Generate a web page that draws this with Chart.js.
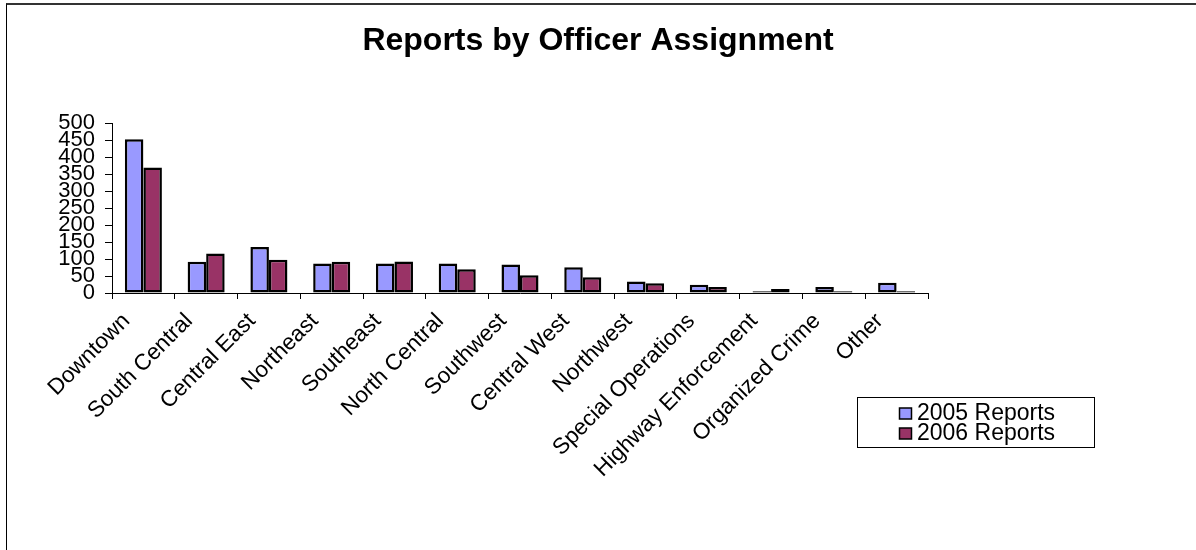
<!DOCTYPE html>
<html>
<head>
<meta charset="utf-8">
<title>Reports by Officer Assignment</title>
<script src="https://cdn.jsdelivr.net/npm/chart.js@4.4.1/dist/chart.umd.min.js"></script>
<style>
    html, body { margin: 0; padding: 0; background: #fff; }
    #wrap { position: relative; width: 1196px; height: 550px; overflow: hidden; }
    #frame {
        position: absolute; left: 6px; top: 3px; width: 1300px; height: 600px;
        border-top: 2px solid #333; border-left: 1px solid #000; pointer-events: none;
    }
</style>
</head>
<body>
<div id="wrap">
    <canvas id="officerChart" width="1196" height="550"></canvas>
    <div id="frame"></div>
</div>
<script>
const categories = ['Downtown', 'South Central', 'Central East', 'Northeast', 'Southeast', 'North Central',
    'Southwest', 'Central West', 'Northwest', 'Special Operations', 'Highway Enforcement', 'Organized Crime', 'Other'];
const reports2005 = [452, 92, 135, 87, 87, 87, 84, 76, 34, 24, 5, 18, 30];
const reports2006 = [369, 116, 98, 92, 93, 70, 52, 46, 29, 18, 12, 5, 5];
const yTicks = [0, 50, 100, 150, 200, 250, 300, 350, 400, 450, 500];

Chart.defaults.font.family = "'Liberation Sans', Arial, sans-serif";
Chart.defaults.color = '#000';

// legend box drawn below the plot, like the original
const boxLegend = {
    id: 'boxLegend',
    afterDraw(chart) {
        const ctx = chart.ctx;
        const x = 857, y = 397, w = 237, h = 50;
        ctx.save();
        ctx.fillStyle = '#fff';
        ctx.fillRect(x, y, w, h);
        ctx.strokeStyle = '#000';
        ctx.lineWidth = 1;
        ctx.strokeRect(x + 0.5, y + 0.5, w, h);
        ctx.font = "23px 'Liberation Sans', Arial, sans-serif";
        ctx.textBaseline = 'middle';
        chart.data.datasets.forEach((ds, i) => {
            const cy = y + 16 + i * 20;
            ctx.fillStyle = ds.backgroundColor;
            ctx.lineWidth = 1.5;
            ctx.fillRect(x + 42.5, cy - 5, 12, 11);
            ctx.strokeRect(x + 42.5, cy - 5, 12, 11);
            ctx.fillStyle = '#000';
            ctx.fillText(ds.label, x + 60, cy + 1);
        });
        ctx.restore();
    }
};

const ctx = document.getElementById('officerChart').getContext('2d');
const officerChart = new Chart(ctx, {
    type: 'bar',
    data: {
        labels: categories,
        datasets: [{
            label: '2005 Reports',
            data: reports2005,
            backgroundColor: '#9999FF',
            borderColor: '#000',
            borderWidth: 2.5,
            borderSkipped: false
        }, {
            label: '2006 Reports',
            data: reports2006,
            backgroundColor: '#993366',
            borderColor: '#000',
            borderWidth: 2.5,
            borderSkipped: false
        }]
    },
    options: {
        responsive: false,
        animation: false,
        layout: { padding: 0 },
        datasets: { bar: { categoryPercentage: 0.59, barPercentage: 1 } },
        plugins: {
            legend: { display: false },
            tooltip: { enabled: false },
            title: {
                display: true,
                text: 'Reports by Officer Assignment',
                font: { size: 32, weight: 'bold' },
                color: '#000',
                padding: { top: 22, bottom: 62.6 }
            }
        },
        scales: {
            x: {
                offset: true,
                grid: { offset: true, drawOnChartArea: false, drawTicks: true, tickLength: 6, color: '#000' },
                border: { color: '#000', width: 1 },
                ticks: {
                    font: { size: 22.5 },
                    color: '#000',
                    autoSkip: false,
                    maxRotation: 45,
                    minRotation: 45,
                    padding: 9,
                    labelOffset: -17
                },
                afterFit(scale) { scale.height = 257; }
            },
            y: {
                min: 0,
                max: 500,
                grid: { drawOnChartArea: false, drawTicks: true, tickLength: 7, color: '#000' },
                border: { color: '#000', width: 1 },
                ticks: { font: { size: 22 }, color: '#000', autoSkip: false, padding: 10 },
                afterBuildTicks(axis) { axis.ticks = yTicks.map(v => ({ value: v })); },
                afterFit(scale) { scale.width = 112; }
            },
            // empty space on the right where the legend sits
            spacer: {
                type: 'linear',
                position: 'right',
                ticks: { display: false },
                grid: { display: false },
                border: { display: false },
                afterFit(scale) { scale.width = 268; }
            }
        }
    },
    plugins: [boxLegend]
});
</script>
</body>
</html>
